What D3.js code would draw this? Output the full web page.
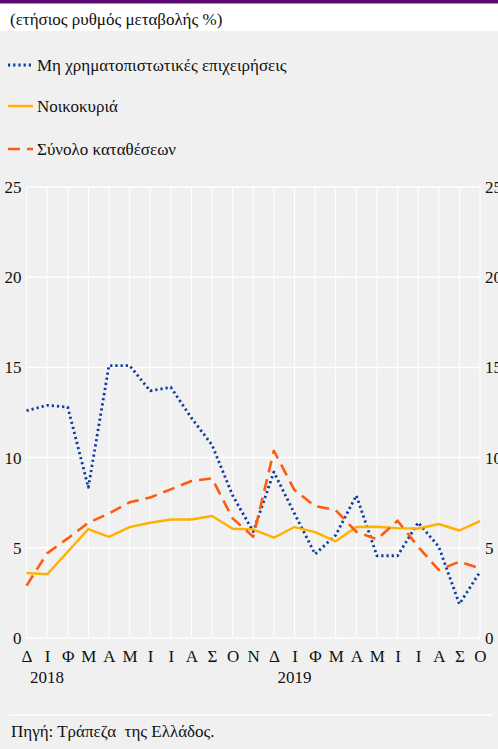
<!DOCTYPE html>
<html>
<head>
<meta charset="utf-8">
<script src="https://cdn.jsdelivr.net/npm/d3@7"></script>
<style>
  html, body { margin: 0; padding: 0; background: #f0f0f0; }
  svg { display: block; }
</style>
</head>
<body>
<script>
// Monthly labels, Dec 2017 – Oct 2019
const months = ["Δ","Ι","Φ","Μ","Α","Μ","Ι","Ι","Α","Σ","Ο","Ν","Δ","Ι","Φ","Μ","Α","Μ","Ι","Ι","Α","Σ","Ο"];
const yearLabels = [{ idx: 1, label: "2018" }, { idx: 13, label: "2019" }];
const yTicks = [0, 5, 10, 15, 20, 25];

// Annual growth rates (%)
const nonFinancial = [12.6, 12.9, 12.8, 8.35, 15.1, 15.1, 13.7, 13.9, 12.2, 10.7, 7.9, 5.9,
                      9.2, 6.9, 4.65, 5.7, 7.9, 4.56, 4.56, 6.4, 5.06, 1.88, 3.67];
const households   = [3.6, 3.53, 4.78, 6.04, 5.61, 6.15, 6.39, 6.57, 6.57, 6.76, 6.06, 6.02,
                      5.56, 6.15, 5.87, 5.36, 6.15, 6.17, 6.09, 6.07, 6.32, 5.96, 6.48];
const totalDeposits = [2.9, 4.69, 5.52, 6.39, 6.9, 7.52, 7.79, 8.24, 8.7, 8.85, 6.63, 5.61,
                       10.38, 8.2, 7.31, 7.09, 5.89, 5.47, 6.5, 5.06, 3.77, 4.23, 3.86];

const seriesNames = ["Μη χρηματοπιστωτικές επιχειρήσεις", "Νοικοκυριά", "Σύνολο καταθέσεων"];

const FONT = "Liberation Serif";
const FS = 17;
const TEXT_STYLE = `font-family: 'Liberation Serif', serif !important; font-size: ${FS}px; fill: #111;`;

const W = 498, H = 749;
const svg = d3.select("body").append("svg").attr("width", W).attr("height", H)
  .attr("font-family", FONT).attr("style", "font-family: 'Liberation Serif', serif");

// serif text helper
const serif = sel => sel.attr("font-family", FONT).attr("font-size", FS).attr("fill", "#111")
  .attr("style", TEXT_STYLE);

// background panels
svg.append("rect").attr("x", 0).attr("y", 0).attr("width", W).attr("height", H).attr("fill", "#f0f0f0");
svg.append("rect").attr("x", 0).attr("y", 0).attr("width", W).attr("height", 31).attr("fill", "#ffffff");
svg.append("rect").attr("x", 0).attr("y", 0).attr("width", W).attr("height", 3.5).attr("fill", "#5a0a6e");

svg.append("text").attr("x", 10).attr("y", 25).call(serif)
  .text("(ετήσιος ρυθμός μεταβολής %)");

const styles = [
  { data: nonFinancial, color: "#0b3c9e", width: 2.8, dash: "2.2,3" },
  { data: households, color: "#ffb000", width: 2.4, dash: null },
  { data: totalDeposits, color: "#ff5a10", width: 2.6, dash: "12,7" }
];

// legend
const legendY = [65, 106, 149];
styles.forEach((s, i) => {
  const g = svg.append("g");
  g.append("line").attr("x1", 8).attr("x2", 33).attr("y1", legendY[i]).attr("y2", legendY[i])
    .attr("stroke", s.color).attr("stroke-width", s.width)
    .attr("stroke-dasharray", s.dash);
  g.append("text").attr("x", 37).attr("y", legendY[i] + 6).call(serif).text(seriesNames[i]);
});

// scales
const x = d3.scalePoint().domain(d3.range(months.length)).range([26.5, 480]);
const y = d3.scaleLinear().domain([0, 25]).range([638, 187]);

// gridlines
svg.append("g").selectAll("line").data(d3.range(months.length)).join("line")
  .attr("x1", d => x(d)).attr("x2", d => x(d)).attr("y1", y(25)).attr("y2", y(0))
  .attr("stroke", "#ffffff").attr("stroke-width", 1);
svg.append("g").selectAll("line").data(yTicks).join("line")
  .attr("x1", x(0)).attr("x2", x(months.length - 1)).attr("y1", d => y(d)).attr("y2", d => y(d))
  .attr("stroke", "#ffffff").attr("stroke-width", 1.5);

// y axes, left and right
const leftAxis = svg.append("g").attr("transform", `translate(${x(0)},0)`)
  .call(d3.axisLeft(y).tickValues(yTicks).tickSize(0).tickPadding(5));
const rightAxis = svg.append("g").attr("transform", `translate(${x(months.length - 1)},0)`)
  .call(d3.axisRight(y).tickValues(yTicks).tickSize(0).tickPadding(5));

// x axis
const xAxis = svg.append("g").attr("transform", `translate(0,${y(0)})`)
  .call(d3.axisBottom(x).tickSize(0).tickPadding(12).tickFormat(i => months[i]));

[leftAxis, rightAxis, xAxis].forEach(a => {
  a.attr("font-family", FONT).attr("font-size", FS);
  a.select(".domain").remove();
  a.selectAll("text").call(serif);
});

svg.append("g").selectAll("text").data(yearLabels).join("text")
  .attr("x", d => x(d.idx)).attr("y", 683).attr("text-anchor", "middle").call(serif)
  .text(d => d.label);

// lines
const line = d3.line().x((d, i) => x(i)).y(d => y(d));
styles.forEach(s => {
  svg.append("path").datum(s.data).attr("d", line)
    .attr("fill", "none").attr("stroke", s.color).attr("stroke-width", s.width)
    .attr("stroke-dasharray", s.dash).attr("stroke-linejoin", "round");
});

// source
svg.append("line").attr("x1", 9).attr("x2", 493).attr("y1", 715).attr("y2", 715)
  .attr("stroke", "#ffffff").attr("stroke-width", 1.5);
svg.append("text").attr("x", 11).attr("y", 737).call(serif).attr("xml:space", "preserve")
  .text("Πηγή: Τράπεζα  της Ελλάδος.");
</script>
</body>
</html>
